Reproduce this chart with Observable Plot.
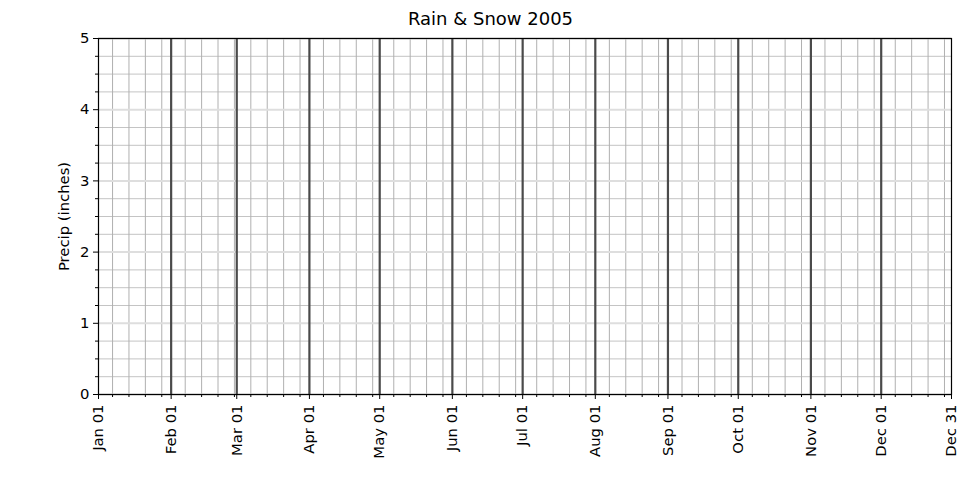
<!DOCTYPE html>
<html><head><meta charset="utf-8">
<script src="https://cdn.jsdelivr.net/npm/d3@7"></script>
<script src="https://cdn.jsdelivr.net/npm/@observablehq/plot@0.6"></script>
<style>
body{margin:0;background:#fff;}
svg{font-family:"DejaVu Sans",sans-serif;}
</style>
</head><body><div id="chart"></div>
<script>
// ---- chart content ----
const title = "Rain & Snow 2005";
const yLabel = "Precip (inches)";
const year = 2005;
const xDomain = ["2005-01-01", "2005-12-31"];
const yDomain = [0, 5];
const majorTickDates = ["2005-01-01","2005-02-01","2005-03-01","2005-04-01","2005-05-01","2005-06-01",
  "2005-07-01","2005-08-01","2005-09-01","2005-10-01","2005-11-01","2005-12-01","2005-12-31"];
const majorTickLabels = ["Jan 01","Feb 01","Mar 01","Apr 01","May 01","Jun 01",
  "Jul 01","Aug 01","Sep 01","Oct 01","Nov 01","Dec 01","Dec 31"];
const minorTickDays = [7, 14, 21, 28];
const yMajorTicks = [0, 1, 2, 3, 4, 5];
const yMinorStep = 0.25;
const precipValues = []; // the reference figure shows no observations

// ---- derived ----
const parse = d3.utcParse("%Y-%m-%d");
const majorDates = majorTickDates.map(parse);
const monthLines = majorDates.slice(1, 12);
const minorDates = d3.range(12).flatMap(m => minorTickDays.map(d => new Date(Date.UTC(year, m, d))));
const yMinorTicks = d3.range(yDomain[0], yDomain[1] + 1e-9, yMinorStep).filter(v => !yMajorTicks.includes(v));
const labelOf = new Map(majorDates.map((d, i) => [+d, majorTickLabels[i]]));
const fs = 14.8;

const chart = Plot.plot({
  width: 980,
  height: 480,
  marginLeft: 98,
  marginRight: 29,
  marginTop: 38,
  marginBottom: 86,
  style: {fontFamily: "DejaVu Sans", fontSize: fs + "px", color: "black", background: "white"},
  x: {type: "utc", domain: xDomain.map(parse)},
  y: {domain: yDomain},
  marks: [
    Plot.ruleY(yMinorTicks, {stroke: "#c4c4c4", strokeWidth: 1}),
    Plot.ruleX(minorDates, {stroke: "#b0b0b0", strokeWidth: 1}),
    Plot.ruleY(yMajorTicks, {stroke: "#dedede", strokeWidth: 2}),
    Plot.ruleX(monthLines, {stroke: "#4a4a4a", strokeWidth: 2.2}),
    Plot.ruleY(precipValues),
    Plot.frame({stroke: "black", strokeWidth: 1.2}),
    Plot.axisY(yMajorTicks, {tickSize: 5, tickPadding: 4, fontSize: fs, label: null, tickFormat: d3.format("d")}),
    Plot.axisY(yMinorTicks, {tickSize: 3, tickFormat: () => "", label: null}),
    Plot.axisX(majorDates, {tickSize: 5, tickPadding: 5, tickRotate: -90, textAnchor: "end",
      lineAnchor: "middle", fontSize: fs, label: null, tickFormat: d => labelOf.get(+d)}),
    Plot.axisX(minorDates, {tickSize: 3, tickFormat: () => "", label: null}),
    Plot.text([yLabel], {frameAnchor: "left", dx: -34.2, rotate: -90, textAnchor: "middle",
      lineAnchor: "middle", fontSize: fs, fill: "black"}),
    Plot.text([title], {frameAnchor: "top", dx: -34.5, dy: -19, textAnchor: "middle",
      lineAnchor: "middle", fontSize: 18, fill: "black"})
  ]
});
document.getElementById("chart").append(chart);
</script>
</body></html>
